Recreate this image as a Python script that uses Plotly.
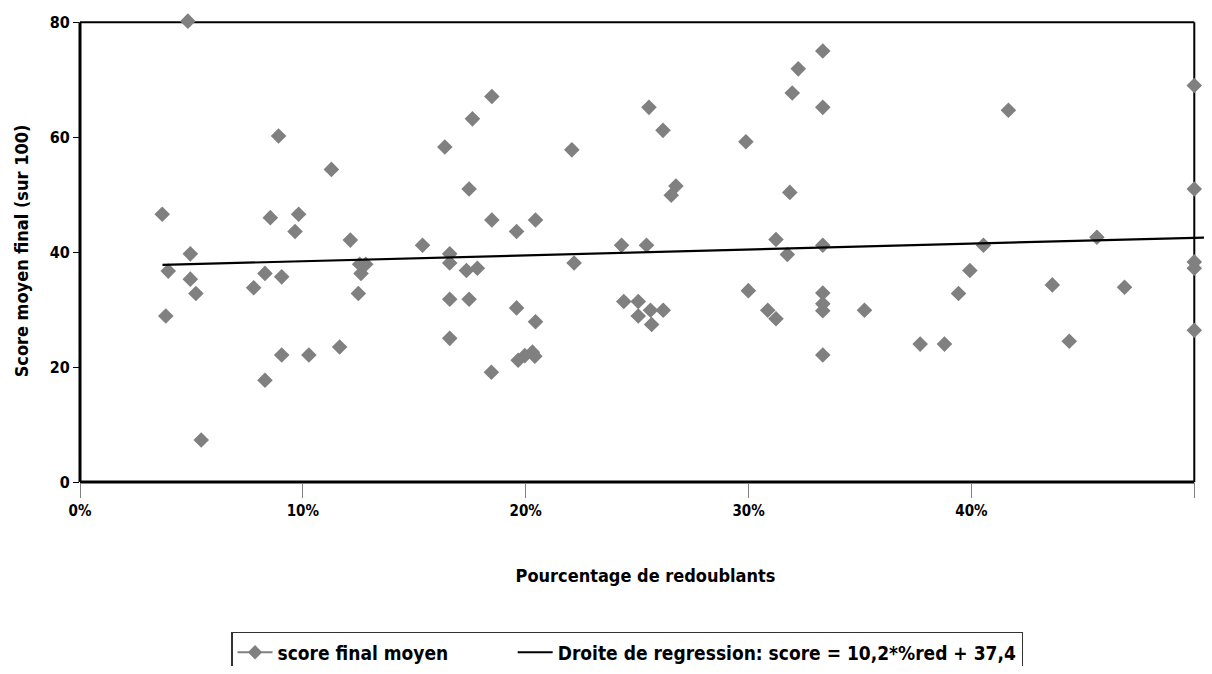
import plotly.graph_objects as go

# Pourcentage de redoublants (fraction) and score final moyen
pct_redoublants = [
    0.0484, 0.0891, 0.1128, 0.0369, 0.0854, 0.0981, 0.0965, 0.1213, 0.0495, 0.0396,
    0.0495, 0.0520, 0.0385, 0.0779, 0.0830, 0.0905, 0.0905, 0.1027, 0.0830, 0.1165,
    0.0544, 0.1249, 0.1261, 0.1255, 0.1282, 0.1637, 0.1761, 0.1848, 0.1746, 0.1848,
    0.1959, 0.2044, 0.2207, 0.1537, 0.1659, 0.1659, 0.1734, 0.1783, 0.1659, 0.1746,
    0.1659, 0.1959, 0.2044, 0.1846, 0.1966, 0.1996, 0.2030, 0.2041, 0.2217, 0.2440,
    0.2505, 0.2505, 0.2560, 0.2617, 0.2565, 0.2430, 0.2542, 0.2553, 0.2616, 0.2988,
    0.2674, 0.2653, 0.3223, 0.3196, 0.3185, 0.3123, 0.3174, 0.2999, 0.3086, 0.3123,
    0.3333, 0.3333, 0.3333, 0.3333, 0.3333, 0.3333, 0.3333, 0.3520, 0.3770, 0.3879,
    0.3942, 0.3993, 0.4054, 0.4166, 0.4363, 0.4439, 0.4563, 0.4687, 0.5000, 0.5000,
    0.5000, 0.5000, 0.5000,
]
score_final = [
    80.2, 60.2, 54.4, 46.6, 46.0, 46.6, 43.6, 42.1, 39.7, 36.7,
    35.3, 32.8, 28.9, 33.8, 36.3, 35.7, 22.1, 22.1, 17.7, 23.5,
    7.3, 32.8, 36.3, 37.9, 37.9, 58.3, 63.2, 67.1, 51.0, 45.6,
    43.6, 45.6, 57.8, 41.2, 39.7, 38.1, 36.8, 37.2, 31.8, 31.8,
    25.0, 30.3, 27.9, 19.1, 21.2, 22.0, 22.6, 21.9, 38.1, 31.4,
    31.4, 28.9, 29.9, 29.9, 27.4, 41.2, 41.2, 65.2, 61.2, 59.2,
    51.5, 49.9, 71.9, 67.7, 50.4, 42.2, 39.6, 33.3, 29.9, 28.4,
    75.0, 65.2, 41.2, 32.9, 31.0, 29.8, 22.1, 29.9, 24.0, 24.0,
    32.8, 36.8, 41.2, 64.7, 34.3, 24.5, 42.6, 33.9, 69.0, 51.0,
    38.3, 37.2, 26.4,
]

# Regression: score = 10.2 * %red + 37.4
reg_slope = 10.2
reg_intercept = 37.4
reg_x = [0.037, 0.507]
reg_y = [reg_slope * x + reg_intercept for x in reg_x]

x_ticks = [0, 0.1, 0.2, 0.3, 0.4, 0.5]
x_tick_labels = ["0%", "10%", "20%", "30%", "40%", "50%"]
y_ticks = [0, 20, 40, 60, 80]
x_frame = [0, 0.5]
y_frame = [0, 80]

FONT = "Liberation Sans Narrow, Arial Narrow, DejaVu Sans Condensed, sans-serif"
GRAY = "#808080"

# geometry (figure pixels; page body adds an 8px offset on each side)
W, H = 1204, 658
PX_X = 2228.0   # px per unit fraction
PX_Y = 5.75     # px per score point
X_MAX = 0.5075
Y_MAX = 80.4
L, PLOT_BOTTOM = 72, 474
B = H - PLOT_BOTTOM
plot_w = X_MAX * PX_X
plot_h = Y_MAX * PX_Y
R = W - L - plot_w
T = H - B - plot_h

# keep the last tick label inside the page: pad it on the right so it centres a bit left
tick_text = list(x_tick_labels)
tick_text[-1] = tick_text[-1] + "\u00a0" * 3

fig = go.Figure()

fig.add_trace(go.Scatter(
    x=pct_redoublants, y=score_final, mode="markers",
    marker=dict(symbol="diamond", size=12, color=GRAY, line=dict(width=0)),
    cliponaxis=False, showlegend=False, name="score final moyen",
))
# legend entry (line + marker as in the original legend)
fig.add_trace(go.Scatter(
    x=[None], y=[None], mode="lines+markers",
    name="score final moyen" + "\u00a0" * 10,
    marker=dict(symbol="diamond", size=11, color=GRAY),
    line=dict(color=GRAY, width=2),
))
fig.add_trace(go.Scatter(
    x=reg_x, y=reg_y, mode="lines",
    line=dict(color="black", width=2.2),
    name="Droite de regression: score = 10,2*%red + 37,4",
))

# chart frame (paper coords so it is not clipped): thick left/bottom, thinner top/right
px0, px1 = x_frame[0] / X_MAX, x_frame[1] / X_MAX
py0, py1 = y_frame[0] / Y_MAX, y_frame[1] / Y_MAX
frame = [
    (px0, px0, py0, py1, 3),
    (px0, px1, py0, py0, 3),
    (px0, px1, py1, py1, 2),
    (px1, px1, py0, py1, 2),
]
for x0, x1, y0, y1, w in frame:
    fig.add_shape(type="line", xref="paper", yref="paper",
                  x0=x0, x1=x1, y0=y0, y1=y1,
                  line=dict(color="black", width=w), layer="below")

fig.update_layout(
    width=W, height=H,
    margin=dict(l=L, r=R, t=T, b=B, autoexpand=False),
    paper_bgcolor="white", plot_bgcolor="rgba(0,0,0,0)",
    font=dict(family=FONT, size=16, color="black", weight="bold"),
    xaxis=dict(
        range=[0, X_MAX], tickvals=x_ticks, ticktext=tick_text,
        showgrid=False, zeroline=False, automargin=False, showline=False,
        ticks="outside", ticklen=15, tickcolor=GRAY, tickwidth=1,
        tickfont=dict(family=FONT, size=15, weight="bold"),
        title=dict(text="Pourcentage de redoublants", standoff=50,
                   font=dict(family=FONT, size=18, weight="bold")),
    ),
    yaxis=dict(
        range=[0, Y_MAX], tickvals=y_ticks,
        showgrid=False, zeroline=False, automargin=False, showline=False,
        ticks="outside", ticklen=6, tickcolor="black", tickwidth=1,
        tickfont=dict(family=FONT, size=16, weight="bold"),
        title=dict(text="Score moyen final (sur 100)", standoff=16,
                   font=dict(family=FONT, size=18, weight="bold")),
    ),
    legend=dict(
        orientation="h",
        x=(223 - L) / plot_w, xanchor="left",
        y=-(624 - PLOT_BOTTOM) / plot_h, yanchor="top",
        bordercolor="#333333", borderwidth=1.5, bgcolor="white",
        font=dict(family=FONT, size=19, weight="bold"),
        itemwidth=35,
    ),
)

fig.write_html("out.html")
